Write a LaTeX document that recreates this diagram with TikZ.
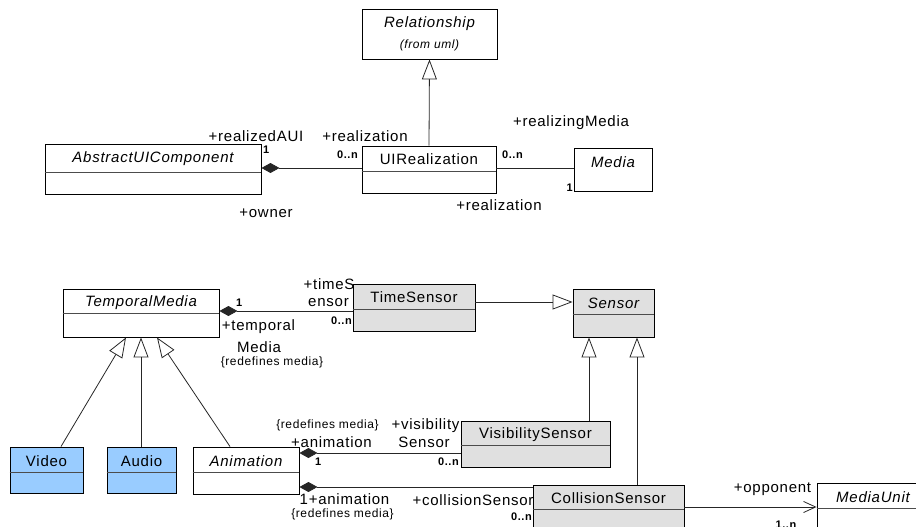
\documentclass[tikz,border=0pt]{standalone}
\usepackage{fontspec}
\setmainfont{Liberation Sans}[LetterSpace=5]
\usetikzlibrary{arrows.meta,fit}
\definecolor{sgray}{HTML}{E0E0E0}
\definecolor{sblue}{HTML}{99CCFF}
\newcommand\umlclass[7]{%
  \node[cls, fill=#7, fit={(#2,#3) (#4,#5)}] (#1) {};
}
\begin{document}
\begin{tikzpicture}[x=1pt,y=-1pt,
  lbl/.style={font=\fontsize{15}{17}\selectfont, inner sep=0pt},
  ilbl/.style={font=\fontsize{15}{17}\selectfont\itshape, inner sep=0pt},
  sm/.style={font=\fontsize{12}{14}\selectfont, inner sep=0pt},
  ism/.style={font=\fontsize{12}{14}\selectfont\itshape, inner sep=0pt},
  mult/.style={font=\fontsize{11}{13}\selectfont\bfseries, inner sep=0pt},
  cls/.style={draw=black, line width=0.9pt, inner sep=0pt},
  sepline/.style={draw=black!70, line width=0.9pt},
  conn/.style={draw=black!85, line width=0.8pt},
  gen/.style={conn, -{Triangle[open,length=20pt,width=15pt]}},
  comp/.style={conn, {Diamond[length=18pt,width=10pt]}-},
  nav/.style={conn, -{Straight Barb[length=12pt,width=11pt]}}]
\useasboundingbox (0,0) rectangle (916,527);
\clip (0,0) rectangle (916,527);

% ---------- top part ----------
\umlclass{rel}{362}{9}{497}{59}{}{white}
\node[ilbl] (relt) at (429.5,24) {Relationship};
\node[ism] (relf) at (429.5,45) {(from uml)};

\umlclass{uir}{362}{146}{496}{193}{}{white}
\draw[sepline] (uir.west |- 0,171) -- (uir.east |- 0,171);
\node[lbl] (uirt) at (429,159) {UIRealization};

\umlclass{aui}{45}{144}{261}{194}{}{white}
\draw[sepline] (aui.west |- 0,172) -- (aui.east |- 0,172);
\node[ilbl] (auit) at (153,159) {AbstractUIComponent};

\umlclass{media}{574}{148}{652}{191}{}{white}
\node[ilbl] (mediat) at (613,162) {Media};

\draw[gen] (uir.north) -- (rel.south);
\draw[comp] (aui.east |- 0,168) -- (uir.west |- 0,168);
\draw[conn] (uir.east |- 0,168) -- (media.west |- 0,168);

\node[lbl] (a1) at (256,136) {+realizedAUI};
\node[mult,anchor=west] (a2) at (263,150) {1};
\node[lbl] (a3) at (365,136) {+realization};
\node[mult,anchor=east] (a4) at (358,155) {0..n};
\node[lbl] (a5) at (266,213) {+owner};
\node[mult,anchor=west] (a6) at (502,155) {0..n};
\node[lbl] (a7) at (571,123) {+realizingMedia};
\node[mult,anchor=east] (a8) at (573,188) {1};
\node[lbl] (a9) at (499,205) {+realization};

% ---------- bottom part ----------
\umlclass{tm}{63}{289}{219}{337}{}{white}
\draw[sepline] (tm.west |- 0,313) -- (tm.east |- 0,313);
\node[ilbl] (tmt) at (141,303) {TemporalMedia};

\umlclass{ts}{353}{284}{475}{331}{}{sgray}
\draw[sepline] (ts.west |- 0,309) -- (ts.east |- 0,309);
\node[lbl] (tst) at (414,297) {TimeSensor};

\umlclass{sen}{573}{289}{654}{337}{}{sgray}
\draw[sepline] (sen.west |- 0,314) -- (sen.east |- 0,314);
\node[ilbl] (sent) at (613.5,303) {Sensor};

\umlclass{vid}{10}{447}{83}{493}{}{sblue}
\draw[sepline] (vid.west |- 0,472) -- (vid.east |- 0,472);
\node[lbl] (vidt) at (46.5,461) {Video};

\umlclass{aud}{107}{447}{176}{493}{}{sblue}
\draw[sepline] (aud.west |- 0,472) -- (aud.east |- 0,472);
\node[lbl] (audt) at (141.5,461) {Audio};

\umlclass{ani}{193}{447}{299}{494}{}{white}
\draw[sepline] (ani.west |- 0,472) -- (ani.east |- 0,472);
\node[ilbl] (anit) at (246,461) {Animation};

\umlclass{vis}{461}{421}{610}{467}{}{sgray}
\draw[sepline] (vis.west |- 0,445) -- (vis.east |- 0,445);
\node[lbl] (vist) at (535.5,435) {VisibilitySensor};

\umlclass{col}{533}{485}{684}{545}{}{sgray}
\draw[sepline] (col.west |- 0,509) -- (col.east |- 0,509);
\node[lbl] (colt) at (608.5,498) {CollisionSensor};

\umlclass{mu}{817}{483}{935}{545}{}{white}
\draw[sepline] (mu.west |- 0,508) -- (mu.east |- 0,508);
\node[ilbl] (mut) at (873,497) {MediaUnit};

% connectors
\draw[comp] (tm.east |- 0,311) -- (ts.west |- 0,311);
\draw[gen] (ts.east |- 0,302) -- (sen.west |- 0,302);
\draw[gen] (vis.north -| 589,0) -- (sen.south -| 589,0);
\draw[gen] (col.north -| 637,0) -- (sen.south -| 637,0);
\draw[gen] (vid.north -| 61,0) -- (tm.south -| 126,0);
\draw[gen] (aud.north -| 141,0) -- (tm.south -| 141,0);
\draw[gen] (ani.north -| 230,0) -- (tm.south -| 157,0);
\draw[comp] (ani.east |- 0,453) -- (vis.west |- 0,453);
\draw[comp] (ani.east |- 0,487) -- (col.west |- 0,487);
\draw[nav] (col.east |- 0,507) -- (mu.west |- 0,507);

% labels
\node[mult,anchor=west] (b1) at (236,303) {1};
\node[lbl] (b2) at (329,284) {+timeS};
\node[lbl] (b3) at (328.5,303) {ensor};
\node[mult,anchor=east] (b4) at (352,321) {0..n};
\node[lbl] (b5) at (258.5,327) {+temporal};
\node[lbl] (b6) at (259,347) {Media};
\node[sm] (b7) at (272,362) {\{redefines media\}};

\node[sm] (c1) at (327.5,425) {\{redefines media\}};
\node[lbl] (c2) at (331.5,442) {+animation};
\node[mult,anchor=west] (c3) at (315,462) {1};
\node[lbl] (c4) at (425.5,426) {+visibility};
\node[lbl] (c5) at (424,442) {Sensor};
\node[mult,anchor=east] (c6) at (459,462) {0..n};

\node[lbl] (d1) at (344.5,499) {1+animation};
\node[sm] (d2) at (342.5,514) {\{redefines media\}};
\node[lbl] (d3) at (473,500) {+collisionSensor};
\node[mult,anchor=east] (d4) at (532,517) {0..n};
\node[lbl] (d5) at (772.5,489) {+opponent};
\node[mult] (d6) at (786,525) {1..n};
\end{tikzpicture}
\end{document}
